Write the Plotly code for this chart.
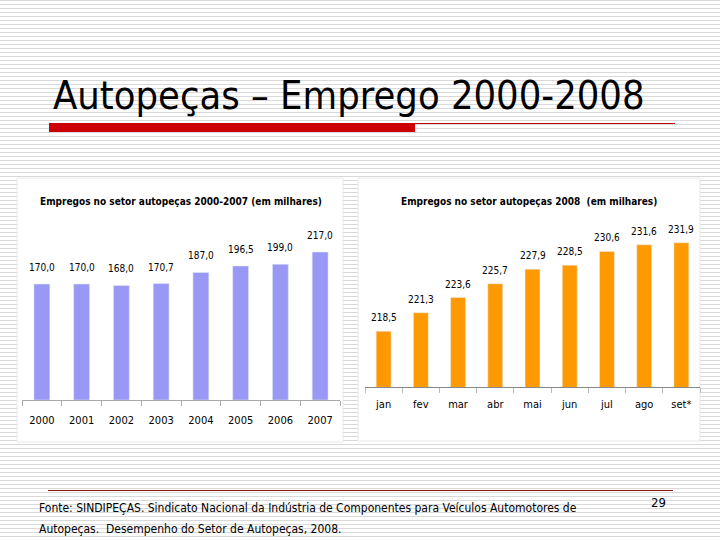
import plotly.graph_objects as go

# ---- data ----
years = ["2000", "2001", "2002", "2003", "2004", "2005", "2006", "2007"]
emp_years = [170.0, 170.0, 168.0, 170.7, 187.0, 196.5, 199.0, 217.0]
months = ["jan", "fev", "mar", "abr", "mai", "jun", "jul", "ago", "set*"]
emp_2008 = [218.5, 221.3, 223.6, 225.7, 227.9, 228.5, 230.6, 231.6, 231.9]

title_text = "Autopeças – Emprego 2000-2008"
left_title = "Empregos no setor autopeças 2000-2007 (em milhares)"
right_title = "Empregos no setor autopeças 2008  (em milhares)"
source_1 = "Fonte: SINDIPEÇAS. Sindicato Nacional da Indústria de Componentes para Veículos Automotores de"
source_2 = "Autopeças.  Desempenho do Setor de Autopeças, 2008."
page_no = "29"

W, H = 720, 540
NARROW = "Liberation Sans Narrow, Arial Narrow, DejaVu Sans Condensed, sans-serif"
TITLE_FONT = "DejaVu Sans Condensed, DejaVu Sans, sans-serif"


def px(x):
    return x / W


def py(y):
    return 1 - y / H


def fmt(v):
    return f"{v:.1f}".replace(".", ",")


fig = go.Figure()
fig.add_trace(go.Bar(x=years, y=emp_years, marker_color="#9999F5", xaxis="x", yaxis="y",
                     hoverinfo="skip"))
fig.add_trace(go.Bar(x=months, y=emp_2008, marker_color="#FF9900", xaxis="x2", yaxis="y2",
                     hoverinfo="skip"))

shapes = []
# striped slide background
segs = []
for k in range(0, H // 4 + 1):
    y = py(4 * k + 0.5)
    segs.append(f"M0,{y:.5f} L1,{y:.5f}")
shapes.append(dict(type="path", xref="paper", yref="paper", path=" ".join(segs),
                   line=dict(color="#d9d9d9", width=1), layer="below"))
# chart panels
for (x0, y0, x1, y1) in [(17, 178, 343, 442), (358, 178, 700, 441)]:
    shapes.append(dict(type="rect", xref="paper", yref="paper",
                       x0=px(x0), x1=px(x1), y0=py(y1), y1=py(y0),
                       fillcolor="white", line=dict(color="#e8e8e8", width=1), layer="below"))
# red title bar and lines
shapes.append(dict(type="rect", xref="paper", yref="paper", x0=px(49), x1=px(415),
                   y0=py(132), y1=py(123), fillcolor="#CC0000", line=dict(width=0), layer="below"))
shapes.append(dict(type="line", xref="paper", yref="paper", x0=px(415), x1=px(675),
                   y0=py(123.5), y1=py(123.5), line=dict(color="#C00000", width=1), layer="below"))
shapes.append(dict(type="line", xref="paper", yref="paper", x0=px(48), x1=px(673),
                   y0=py(490.5), y1=py(490.5), line=dict(color="#8B1A1A", width=1), layer="below"))

annotations = []
annotations.append(dict(text=title_text, xref="paper", yref="paper", x=px(51), y=py(95),
                        xanchor="left", yanchor="middle", showarrow=False,
                        font=dict(family=TITLE_FONT, size=39.5, color="black")))
annotations.append(dict(text="<b>" + left_title + "</b>", xref="paper", yref="paper",
                        x=px(181), y=py(201), xanchor="center", yanchor="middle", showarrow=False,
                        font=dict(family=NARROW, size=10, color="black")))
annotations.append(dict(text="<b>" + right_title + "</b>", xref="paper", yref="paper",
                        x=px(529), y=py(201), xanchor="center", yanchor="middle", showarrow=False,
                        font=dict(family=NARROW, size=10, color="black")))
# value labels (category index on the category axis, value on the y axis)
for i, v in enumerate(emp_years):
    annotations.append(dict(text=fmt(v), x=i, y=v, xref="x", yref="y", yanchor="bottom",
                            yshift=9, showarrow=False,
                            font=dict(family=NARROW, size=10, color="black")))
for i, v in enumerate(emp_2008):
    annotations.append(dict(text=fmt(v), x=i, y=v, xref="x2", yref="y2", yanchor="bottom",
                            yshift=6, showarrow=False,
                            font=dict(family=NARROW, size=10, color="black")))
annotations.append(dict(text=source_1, xref="paper", yref="paper", x=px(37), y=py(508),
                        xanchor="left", yanchor="middle", showarrow=False,
                        font=dict(family=NARROW, size=12, color="black")))
annotations.append(dict(text=source_2, xref="paper", yref="paper", x=px(37), y=py(529),
                        xanchor="left", yanchor="middle", showarrow=False,
                        font=dict(family=NARROW, size=12, color="black")))
annotations.append(dict(text=page_no, xref="paper", yref="paper", x=px(658), y=py(502),
                        xanchor="center", yanchor="middle", showarrow=False,
                        font=dict(family=NARROW, size=13, color="black")))

axis_common = dict(type="category", showgrid=False, zeroline=False, showline=True,
                   ticks="outside", tickson="boundaries", ticklen=5,
                   automargin=False, tickangle=0,
                   tickfont=dict(family=NARROW, size=11, color="black"), fixedrange=True)

fig.update_layout(
    width=W, height=H, autosize=False,
    margin=dict(l=0, r=0, t=0, b=0, pad=0),
    paper_bgcolor="white", plot_bgcolor="rgba(0,0,0,0)",
    showlegend=False, bargap=0.6,
    shapes=shapes, annotations=annotations,
    xaxis=dict(domain=[px(22), px(340)], anchor="y", linecolor="#aaaaaa", tickcolor="#aaaaaa",
               range=[-0.5, len(years) - 0.5], ticklabelstandoff=10, **axis_common),
    yaxis=dict(domain=[py(400), py(225)], range=[0, 256.6], visible=False, fixedrange=True,
               automargin=False),
    xaxis2=dict(domain=[px(365), px(700)], anchor="y2", linecolor="#888888", tickcolor="#bbbbbb",
                range=[-0.5, len(months) - 0.5], ticklabelstandoff=6, **axis_common),
    yaxis2=dict(domain=[py(387.3), py(225)], range=[210, 234.6], visible=False, fixedrange=True,
                automargin=False),
)

fig.write_html("out.html", config={"displayModeBar": False},
               post_script="document.body.style.margin='0';document.body.style.overflow='hidden';")
